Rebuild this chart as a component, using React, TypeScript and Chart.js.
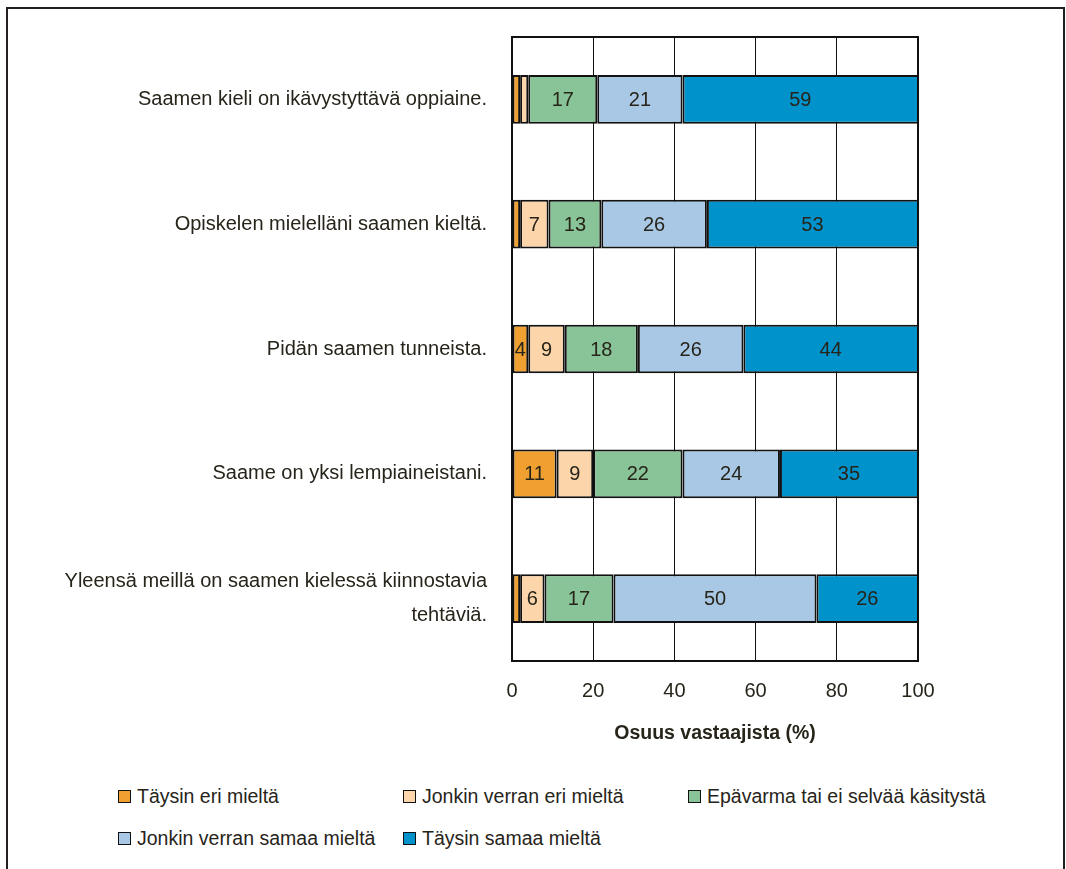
import React, { useEffect, useRef } from "react";
import { Chart, registerables } from "chart.js";

Chart.register(...registerables);

const categories: (string | string[])[] = [
  "Saamen kieli on ikävystyttävä oppiaine.",
  "Opiskelen mielelläni saamen kieltä.",
  "Pidän saamen tunneista.",
  "Saame on yksi lempiaineistani.",
  ["Yleensä meillä on saamen kielessä kiinnostavia", "tehtäviä."],
];

const seriesNames = [
  "Täysin eri mieltä",
  "Jonkin verran eri mieltä",
  "Epävarma tai ei selvää käsitystä",
  "Jonkin verran samaa mieltä",
  "Täysin samaa mieltä",
];

const taysinEri = [2, 2, 4, 11, 2];
const jonkinEri = [2, 7, 9, 9, 6];
const epavarma = [17, 13, 18, 22, 17];
const jonkinSamaa = [21, 26, 26, 24, 50];
const taysinSamaa = [59, 53, 44, 35, 26];

const xTicks = [0, 20, 40, 60, 80, 100];

const colors = ["#F0A030", "#FCD5AA", "#88C497", "#A8C8E6", "#0092CB"];

const TEXT = "#27241a";
const FONT = "'Liberation Sans', Arial, sans-serif";

export default function App() {
  const ref = useRef<HTMLCanvasElement>(null);

  useEffect(() => {
    if (!ref.current) return;
    const seriesValues = [taysinEri, jonkinEri, epavarma, jonkinSamaa, taysinSamaa];

    const labelPlugin = {
      id: "barLabels",
      afterDatasetsDraw(chart: any) {
        const ctx = chart.ctx;
        ctx.save();
        ctx.font = `20px ${FONT}`;
        ctx.fillStyle = TEXT;
        ctx.textAlign = "center";
        ctx.textBaseline = "middle";
        const area = chart.chartArea;
        chart.data.datasets.forEach((ds: any, di: number) => {
          const meta = chart.getDatasetMeta(di);
          meta.data.forEach((el: any, i: number) => {
            const v = ds.data[i];
            if (v < 4) return;
            const left = Math.min(el.base, el.x);
            const right = Math.min(Math.max(el.base, el.x), area.right);
            ctx.fillText(String(v), (left + right) / 2, el.y + 1);
          });
        });
        ctx.restore();
      },
      afterDraw(chart: any) {
        const ctx = chart.ctx;
        const a = chart.chartArea;
        ctx.save();
        ctx.strokeStyle = "#111";
        ctx.lineWidth = 2;
        ctx.strokeRect(a.left, a.top, a.right - a.left, a.bottom - a.top);
        ctx.restore();
      },
    };

    const chart = new Chart(ref.current, {
      type: "bar",
      data: {
        labels: categories,
        datasets: seriesValues.map((vals, i) => ({
          label: seriesNames[i],
          data: vals,
          backgroundColor: colors[i],
          borderColor: "#111",
          borderWidth: 2,
          borderSkipped: false,
          categoryPercentage: 1,
          barPercentage: 0.39,
        })),
      },
      options: {
        indexAxis: "y",
        animation: false,
        responsive: false,
        layout: { padding: { left: 0, right: 148, top: 37, bottom: 15 } },
        plugins: {
          legend: { display: false },
          tooltip: { enabled: false },
        },
        scales: {
          x: {
            stacked: true,
            min: 0,
            max: 100,
            afterBuildTicks: (scale: any) => {
              scale.ticks = xTicks.map((v) => ({ value: v }));
            },
            afterFit: (scale: any) => {
              scale.height = 84;
              scale.paddingLeft = 0;
              scale.paddingRight = 0;
            },
            grid: { color: "#111", lineWidth: 1, drawTicks: false },
            border: { display: false },
            ticks: {
              padding: 18,
              color: TEXT,
              font: { family: FONT, size: 20 },
            },
            title: {
              display: true,
              text: "Osuus vastaajista (%)",
              color: TEXT,
              font: { family: FONT, size: 19.5, weight: "bold" },
              padding: { top: 10, bottom: 0 },
            },
          },
          y: {
            stacked: true,
            afterFit: (scale: any) => {
              scale.width = 512;
              scale.paddingTop = 0;
              scale.paddingBottom = 0;
            },
            grid: { display: false, drawTicks: false },
            border: { display: false },
            ticks: {
              padding: 25,
              color: TEXT,
              font: { family: FONT, size: 20, lineHeight: 1.7 },
            },
          },
        },
      },
      plugins: [labelPlugin],
    } as any);
    return () => chart.destroy();
  }, []);

  const legendRows = [
    [0, 1, 2],
    [3, 4],
  ];

  return (
    <div style={{ position: "absolute", left: 0, top: 0, width: 1066, height: 869, overflow: "hidden", background: "#fff" }}>
      <div
        style={{
          position: "absolute",
          left: 6,
          top: 7,
          width: 1055,
          height: 920,
          border: "2px solid #231f20",
        }}
      />
      <canvas ref={ref} width={1066} height={760} style={{ position: "absolute", left: 0, top: 0, display: "block" }} />
      {legendRows.map((row, ri) => (
        <div key={ri} style={{ position: "absolute", left: 118, top: 784 + ri * 42, display: "flex" }}>
          {row.map((si) => (
            <div
              key={si}
              style={{
                width: si === 2 ? 360 : 285,
                whiteSpace: "nowrap",
                display: "flex",
                alignItems: "center",
                fontFamily: FONT,
                fontSize: 19.5,
                color: TEXT,
                lineHeight: "24px",
              }}
            >
              <span
                style={{
                  display: "inline-block",
                  flex: "none",
                  width: 11,
                  height: 11,
                  background: colors[si],
                  border: "1.5px solid #111",
                  marginRight: 6,
                }}
              />
              {seriesNames[si]}
            </div>
          ))}
        </div>
      ))}
    </div>
  );
}
